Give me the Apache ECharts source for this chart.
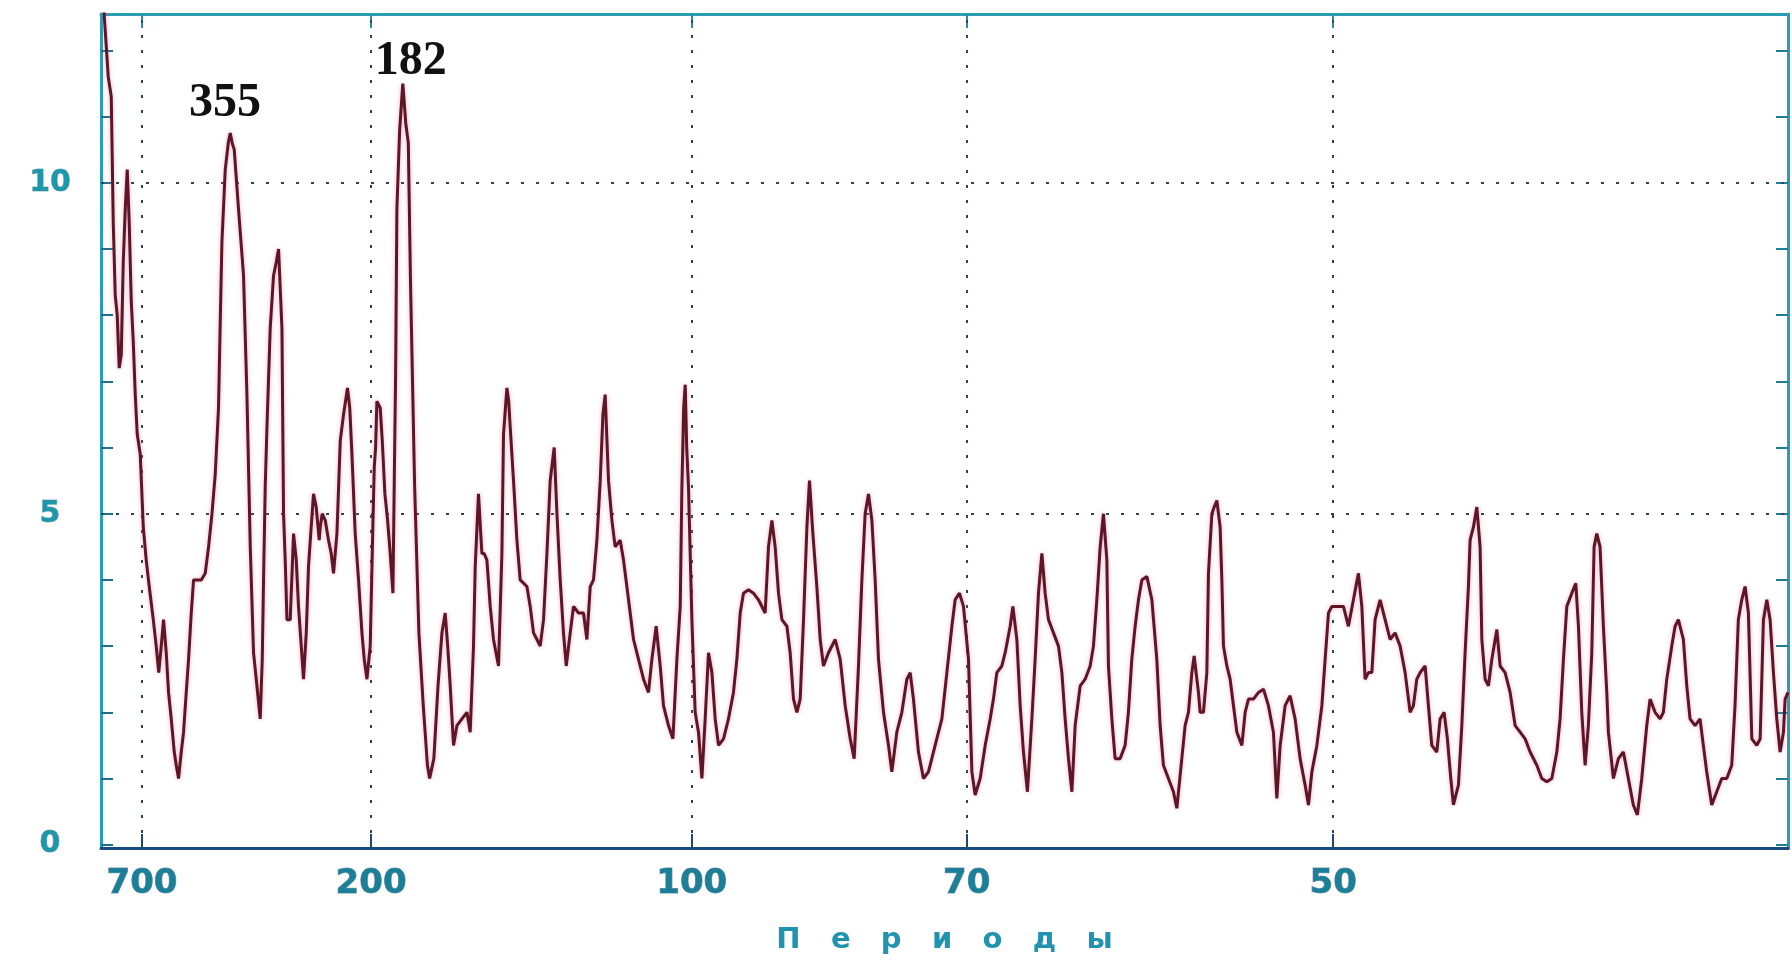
<!DOCTYPE html>
<html>
<head>
<meta charset="utf-8">
<title>Периодограмма</title>
<script src="https://cdn.jsdelivr.net/npm/echarts@6/dist/echarts.min.js"></script>
<style>
  html, body { margin: 0; padding: 0; background: #ffffff; }
  #chart { width: 1792px; height: 960px; }
</style>
</head>
<body>
<div id="chart"></div>
<script>
// Periods marked on the horizontal (frequency) axis
const tickPeriods = [700, 200, 100, 70, 50];
// Levels with a dotted reference line
const gridLevels = [5, 10];
// Power levels with a tick mark, and those that carry a label
const powerTicks = [0, 1, 2, 3, 4, 5, 6, 7, 8, 9, 10, 11, 12];
const powerLabels = [0, 5, 10];
// Periods of the annotated spectral peaks
const peakPeriods = [355, 182];

// Frequency, cycles per 1000 days
const frequency = [
  0.794, 0.856, 0.903, 0.950, 0.981, 1.012, 1.043, 1.074, 1.106, 1.137,
  1.168, 1.199, 1.230, 1.262, 1.293, 1.324, 1.355, 1.402, 1.449, 1.495,
  1.542, 1.605, 1.651, 1.690, 1.729, 1.765, 1.807, 1.843, 1.885, 1.932,
  1.963, 1.999, 2.041, 2.077, 2.119, 2.155, 2.197, 2.233, 2.290, 2.353,
  2.415, 2.467, 2.520, 2.571, 2.622, 2.649, 2.675, 2.727, 2.774, 2.805,
  2.836, 2.867, 2.934, 3.012, 3.065, 3.117, 3.168, 3.221, 3.272, 3.304,
  3.324, 3.350, 3.377, 3.428, 3.480, 3.522, 3.558, 3.611, 3.636, 3.662,
  3.689, 3.740, 3.792, 3.834, 3.869, 3.912, 3.947, 3.990, 4.025, 4.067,
  4.103, 4.145, 4.192,
  4.208, 4.239, 4.286, 4.337, 4.379, 4.415, 4.468, 4.520, 4.571, 4.633,
  4.668, 4.702, 4.753, 4.805, 4.858, 4.894, 4.936, 4.987, 5.028, 5.050,
  5.071, 5.091, 5.112, 5.143, 5.175, 5.216, 5.258, 5.299, 5.341, 5.362,
  5.383, 5.403, 5.446, 5.474, 5.495, 5.541, 5.581, 5.615, 5.680, 5.746,
  5.814, 5.879, 5.913, 5.979, 6.044, 6.105, 6.156, 6.195, 6.234,
  6.286, 6.339, 6.417, 6.495, 6.546, 6.597, 6.624, 6.675, 6.728, 6.764,
  6.806, 6.858, 6.909, 6.987, 7.040, 7.065, 7.118, 7.146, 7.170, 7.221,
  7.274, 7.325, 7.430, 7.481, 7.533,
  7.586, 7.637, 7.689, 7.742, 7.793, 7.855, 7.898, 7.949, 8.000, 8.043,
  8.105, 8.156, 8.234, 8.312, 8.365, 8.417, 8.468, 8.521, 8.573, 8.615,
  8.650, 8.702, 8.755, 8.806, 8.884, 8.936, 9.014, 9.092, 9.170, 9.248,
  9.325, 9.378, 9.445, 9.508, 9.559, 9.637, 9.706, 9.768, 9.820, 9.846,
  9.874, 9.898, 9.921, 9.949, 10.002, 10.053, 10.105, 10.158, 10.209, 10.261,
  10.314, 10.365, 10.417, 10.495, 10.572, 10.650, 10.703, 10.755, 10.806, 10.884,
  10.962, 11.040,
  11.066, 11.144, 11.196, 11.249, 11.300, 11.352, 11.405, 11.483, 11.534, 11.586,
  11.639, 11.690, 11.742, 11.795, 11.835, 11.888, 11.950, 12.002, 12.053, 12.131,
  12.236, 12.314, 12.392, 12.470, 12.532, 12.599, 12.652, 12.703, 12.755, 12.808,
  12.859, 12.911, 12.989, 13.067, 13.119, 13.197, 13.275, 13.353, 13.405, 13.456,
  13.534, 13.612, 13.690, 13.794, 13.899, 13.977, 14.055, 14.106, 14.173, 14.236,
  14.314, 14.367, 14.418, 14.496,
  14.574, 14.652, 14.703, 14.756, 14.834, 14.886, 14.964, 15.006, 15.068, 15.120,
  15.171, 15.233, 15.302, 15.353, 15.405, 15.458, 15.509, 15.561, 15.639, 15.717,
  15.770, 15.821, 15.873, 15.926, 15.977, 16.055, 16.133, 16.211, 16.262, 16.315,
  16.367, 16.418, 16.471, 16.496, 16.549, 16.600, 16.678, 16.756, 16.807, 16.860,
  16.912, 16.964, 17.017, 17.095, 17.173, 17.250, 17.302, 17.353, 17.431, 17.509,
  17.562, 17.614, 17.691, 17.743, 17.796, 17.832, 17.899,
  17.925, 17.977, 18.030, 18.055, 18.108, 18.144, 18.186, 18.237, 18.264, 18.289,
  18.342, 18.393, 18.445, 18.498, 18.576, 18.627, 18.679, 18.757, 18.835, 18.913,
  18.990, 19.068, 19.121, 19.173, 19.250, 19.328, 19.406, 19.484, 19.562, 19.614,
  19.667, 19.745, 19.823, 19.874, 19.926, 19.979, 20.056, 20.159, 20.237, 20.315,
  20.393, 20.446, 20.497, 20.549, 20.602, 20.653, 20.731, 20.809, 20.887, 20.965,
  21.043, 21.121, 21.199, 21.250, 21.303,
  21.355, 21.433, 21.484, 21.537, 21.615, 21.667, 21.729, 21.780, 21.833, 21.874,
  21.952, 22.005, 22.056, 22.108, 22.134, 22.186, 22.239, 22.290, 22.317, 22.368,
  22.420, 22.473, 22.551, 22.602, 22.680, 22.758, 22.836, 22.914, 22.992, 23.070,
  23.174, 23.252, 23.330, 23.408, 23.486, 23.537, 23.589, 23.642, 23.720, 23.782,
  23.823, 23.875, 23.927, 23.978, 24.031, 24.067, 24.109, 24.160, 24.212, 24.265,
  24.290, 24.368, 24.446, 24.524, 24.601, 24.679, 24.742, 24.810, 24.888, 24.940,
  25.018, 25.096, 25.147, 25.200, 25.278, 25.330, 25.381, 25.459, 25.512, 25.563,
  25.641, 25.719, 25.770, 25.823, 25.901, 25.979, 26.057, 26.135, 26.213, 26.264,
  26.316, 26.369, 26.421, 26.473, 26.526, 26.604, 26.656, 26.707, 26.760, 26.811,
  26.863, 26.915, 26.967, 27.019, 27.045, 27.090
];

// Spectral power at each frequency
const power = [
  13.2, 12.3, 11.6, 11.3, 9.4, 8.3, 8.0, 7.2, 7.4, 8.8,
  9.6, 10.2, 9.4, 8.2, 7.6, 6.8, 6.2, 5.9, 4.8, 4.3,
  3.9, 3.4, 3.0, 2.6, 3.0, 3.4, 2.9, 2.3, 1.9, 1.4,
  1.2, 1.0, 1.4, 1.7, 2.3, 2.8, 3.5, 4.0, 4.0, 4.0,
  4.1, 4.5, 5.0, 5.6, 6.6, 7.9, 9.1, 10.2, 10.6, 10.75,
  10.6, 10.5, 9.6, 8.6, 6.8, 4.5, 2.9, 2.4, 1.9, 2.8,
  4.0, 5.4, 6.3, 7.8, 8.6, 8.8, 9.0, 7.8, 5.0, 4.3,
  3.4, 3.4, 4.7, 4.3, 3.6, 3.0, 2.5, 3.2, 4.2, 4.8,
  5.3, 5.1, 4.6,
  4.8, 5.0, 4.9, 4.6, 4.4, 4.1, 4.7, 6.1, 6.5, 6.9,
  6.6, 5.9, 4.7, 4.0, 3.2, 2.8, 2.5, 3.0, 4.8, 5.7,
  6.0, 6.7, 6.7, 6.6, 6.1, 5.3, 4.9, 4.4, 3.8, 5.5,
  7.1, 9.6, 10.8, 11.2, 11.5, 10.9, 10.6, 8.5, 5.4, 3.2,
  2.1, 1.2, 1.0, 1.3, 2.4, 3.2, 3.5, 3.0, 2.4,
  1.5, 1.8, 1.9, 2.0, 1.7, 3.0, 4.2, 5.3, 4.4, 4.4,
  4.3, 3.6, 3.1, 2.7, 4.4, 6.2, 6.9, 6.7, 6.3, 5.5,
  4.6, 4.0, 3.9, 3.6, 3.2,
  3.1, 3.0, 3.4, 4.4, 5.5, 6.0, 5.0, 4.0, 3.2, 2.7,
  3.2, 3.6, 3.5, 3.5, 3.1, 3.9, 4.0, 4.6, 5.5, 6.5,
  6.8, 5.5, 4.9, 4.5, 4.6, 4.3, 3.7, 3.1, 2.8, 2.5,
  2.3, 2.8, 3.3, 2.7, 2.1, 1.8, 1.6, 2.8, 3.6, 5.4,
  6.6, 6.95, 6.0, 5.4, 3.4, 2.0, 1.7, 1.0, 1.9, 2.9,
  2.6, 1.9, 1.5, 1.6, 1.9, 2.3, 2.8, 3.5, 3.8, 3.85,
  3.8, 3.7,
  3.7, 3.5, 4.5, 4.9, 4.5, 3.8, 3.4, 3.3, 2.9, 2.2,
  2.0, 2.2, 3.4, 4.8, 5.5, 4.7, 3.9, 3.1, 2.7, 2.9,
  3.1, 2.8, 2.1, 1.6, 1.3, 2.7, 4.0, 5.0, 5.3, 4.9,
  4.0, 2.8, 2.0, 1.5, 1.1, 1.7, 2.0, 2.5, 2.6, 2.2,
  1.4, 1.0, 1.1, 1.5, 1.9, 2.6, 3.3, 3.7, 3.8, 3.6,
  2.8, 1.1, 0.75, 1.0,
  1.5, 1.9, 2.2, 2.6, 2.7, 2.9, 3.3, 3.6, 3.1, 2.1,
  1.4, 0.8, 1.9, 2.8, 3.8, 4.4, 3.8, 3.4, 3.2, 3.0,
  2.6, 1.9, 1.3, 0.8, 1.8, 2.4, 2.5, 2.7, 3.0, 3.7,
  4.5, 5.0, 4.3, 2.7, 1.9, 1.3, 1.3, 1.5, 2.0, 2.8,
  3.3, 3.7, 4.0, 4.05, 3.7, 2.8, 1.8, 1.2, 1.0, 0.8,
  0.55, 1.05, 1.8, 2.0, 2.6, 2.85, 2.3,
  2.0, 2.0, 2.6, 4.1, 5.0, 5.1, 5.2, 4.8, 4.0, 3.0,
  2.7, 2.5, 2.1, 1.7, 1.5, 2.0, 2.2, 2.2, 2.3, 2.35,
  2.1, 1.7, 0.7, 1.5, 2.1, 2.25, 1.9, 1.3, 0.9, 0.6,
  1.1, 1.5, 2.1, 2.8, 3.5, 3.6, 3.6, 3.6, 3.3, 3.7,
  4.1, 3.6, 2.5, 2.6, 2.6, 3.4, 3.7, 3.4, 3.1, 3.2,
  3.0, 2.6, 2.0, 2.1, 2.5,
  2.6, 2.7, 2.1, 1.5, 1.4, 1.9, 2.0, 1.6, 1.0, 0.6,
  0.9, 1.8, 2.9, 3.9, 4.6, 4.8, 5.1, 4.5, 3.1, 2.5,
  2.4, 2.8, 3.25, 2.7, 2.6, 2.3, 1.8, 1.7, 1.6, 1.4,
  1.2, 1.0, 0.95, 1.0, 1.4, 1.9, 2.8, 3.6, 3.8, 3.95,
  3.3, 2.0, 1.2, 1.8, 2.9, 4.5, 4.7, 4.5, 3.3, 2.3,
  1.7, 1.0, 1.3, 1.4, 1.0, 0.6, 0.45, 1.0, 1.8, 2.2,
  2.0, 1.9, 2.0, 2.5, 3.0, 3.3, 3.4, 3.1, 2.4, 1.9,
  1.8, 1.9, 1.5, 1.1, 0.6, 0.8, 1.0, 1.0, 1.2, 2.1,
  3.4, 3.7, 3.9, 3.5, 1.6, 1.5, 1.6, 3.4, 3.7, 3.4,
  2.6, 1.9, 1.4, 1.7, 2.2, 2.3
];

const spectrum = frequency.map((f, i) => [f, power[i]]);
const tickFreqs = tickPeriods.map(p => 1000 / p);

// Highest power close to a given period, used to anchor the peak labels
function peakPower(period) {
  const f0 = 1000 / period;
  let best = 0;
  frequency.forEach((f, i) => {
    if (Math.abs(f - f0) < 0.06 && power[i] > best) best = power[i];
  });
  return best;
}

const X_MIN = 0.79, X_MAX = 27.09;
const Y_MIN = -0.05, Y_MAX = 12.55;

const teal = '#2a9db3';
const navy = '#1b4a7e';
const labelFont = '"DejaVu Sans", Verdana, sans-serif';

const chart = echarts.init(document.getElementById('chart'));
chart.setOption({
  animation: false,
  backgroundColor: '#ffffff',
  grid: { left: 101, right: 4, top: 14, bottom: 112, containLabel: false },
  xAxis: [
    {
      type: 'value', position: 'bottom', min: X_MIN, max: X_MAX,
      axisLine: { show: true, onZero: false, lineStyle: { color: navy, width: 3 } },
      axisTick: { show: true, inside: true, length: 14, customValues: tickFreqs,
                  lineStyle: { color: navy, width: 2 } },
      axisLabel: {
        show: true, customValues: tickFreqs, margin: 19,
        formatter: v => String(Math.round(1000 / v)),
        color: '#1c7f98', fontFamily: labelFont, fontWeight: 'bold', fontSize: 34,
        textBorderColor: 'rgba(20,70,110,0.55)', textBorderWidth: 1
      },
      splitLine: { show: false },
      name: 'П   е   р   и   о   д   ы',
      nameLocation: 'middle', nameGap: 78,
      nameTextStyle: { color: '#1f93b0', fontFamily: labelFont, fontWeight: 'bold', fontSize: 29 }
    },
    {
      type: 'value', position: 'top', min: X_MIN, max: X_MAX,
      axisLine: { show: true, onZero: false, lineStyle: { color: teal, width: 3 } },
      axisTick: { show: true, inside: true, length: 14, customValues: tickFreqs,
                  lineStyle: { color: '#2a8ea3', width: 2 } },
      axisLabel: { show: false },
      splitLine: { show: false }
    }
  ],
  yAxis: [
    {
      type: 'value', position: 'left', min: Y_MIN, max: Y_MAX,
      axisLine: { show: true, onZero: false, lineStyle: { color: teal, width: 3 } },
      axisTick: { show: true, inside: true, length: 12, customValues: powerTicks,
                  lineStyle: { color: '#1f6f8f', width: 2 } },
      axisLabel: {
        show: true, customValues: powerLabels, margin: 51, align: 'center',
        formatter: v => String(v),
        color: '#1f97aa', fontFamily: labelFont, fontWeight: 'bold', fontSize: 30,
        textBorderColor: 'rgba(20,90,110,0.45)', textBorderWidth: 1
      },
      splitLine: { show: false }
    },
    {
      type: 'value', position: 'right', min: Y_MIN, max: Y_MAX,
      axisLine: { show: true, onZero: false, lineStyle: { color: teal, width: 3 } },
      axisTick: { show: true, inside: true, length: 12, customValues: powerTicks,
                  lineStyle: { color: '#1f7f95', width: 2 } },
      axisLabel: { show: false },
      splitLine: { show: false }
    }
  ],
  series: [
    {
      type: 'line',
      xAxisIndex: 0, yAxisIndex: 0,
      data: spectrum,
      showSymbol: false,
      clip: true,
      lineStyle: { color: '#5e1526', width: 3,
                   shadowColor: 'rgba(220,110,150,0.55)', shadowBlur: 4 },
      z: 3,
      markLine: {
        silent: true, z: 1,
        symbol: ['none', 'none'],
        label: { show: false },
        lineStyle: { type: [3, 12], color: '#2d4550', width: 2, opacity: 1 },
        data: [
          ...gridLevels.map(v => ({ yAxis: v })),
          ...tickFreqs.map(f => ({ xAxis: f }))
        ]
      },
      markPoint: {
        silent: true,
        symbol: 'circle', symbolSize: 0,
        label: {
          show: true, position: 'top',
          formatter: p => p.name,
          color: '#111111', fontFamily: '"Liberation Serif", "Times New Roman", serif',
          fontWeight: 'bold', fontSize: 48
        },
        data: [
          { name: String(peakPeriods[0]), coord: [1000 / peakPeriods[0], peakPower(peakPeriods[0])],
            label: { distance: 6, offset: [-6, 0] } },
          { name: String(peakPeriods[1]), coord: [1000 / peakPeriods[1], peakPower(peakPeriods[1])],
            label: { distance: -2, offset: [8, 0] } }
        ]
      }
    }
  ]
});
</script>
</body>
</html>
